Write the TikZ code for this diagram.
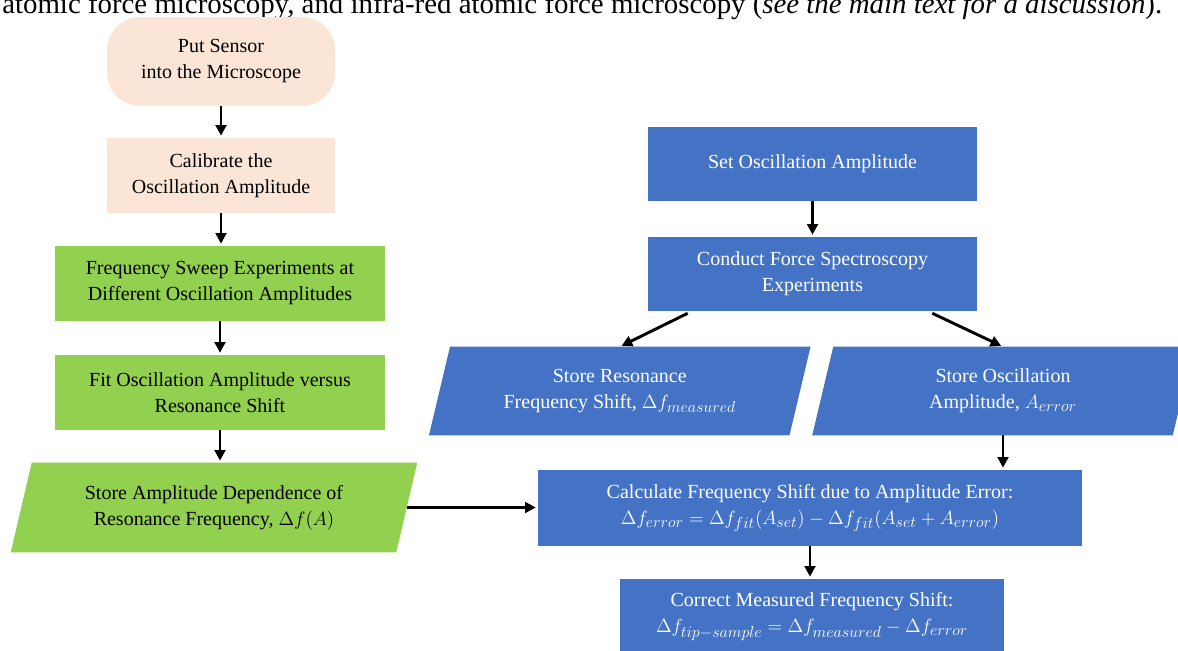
\documentclass[tikz,border=0pt]{standalone}
\usepackage{fontspec}
\setmainfont{Liberation Serif}
\usepackage{graphicx}
\DeclareMathSizes{15}{15}{11.5}{9}
\usetikzlibrary{arrows.meta,calc,backgrounds}
\definecolor{peach}{HTML}{FBE5D6}
\definecolor{lgreen}{HTML}{92D050}
\definecolor{oblue}{HTML}{4472C4}
\newcommand{\paraback}[3]{%
  \begin{scope}[on background layer]
    \fill[#2] ($(#1.south west)+(-#3/2,0)$) -- ($(#1.north west)+(#3/2,0)$)
      -- ($(#1.north east)+(#3/2,0)$) -- ($(#1.south east)+(-#3/2,0)$) -- cycle;
  \end{scope}}
\begin{document}
\begin{tikzpicture}[x=0.75pt,y=-0.75pt,
  box/.style={rectangle, inner sep=0pt, align=center, font=\fontsize{15}{19.5}\selectfont},
  peachbox/.style={box, fill=peach, text=black},
  greenbox/.style={box, fill=lgreen, text=black},
  bluebox/.style={box, fill=oblue, text=white},
  greenpara/.style={box, text=black},
  bluepara/.style={box, text=white},
  arr/.style={-{Triangle[length=8pt,width=8pt]}, line width=2.2pt, black, shorten >=1.5pt}
]
\useasboundingbox (0,0) rectangle (1178,650);

% cut-off caption line at the top
\node[anchor=base west, inner sep=0pt] (cap) at (2,13)
  {\resizebox{870pt}{!}{\fontsize{19}{23}\selectfont atomic force microscopy, and infra-red atomic force microscopy (\textit{see the main text for a discussion}).}};

% left column
\node[peachbox, minimum width=171pt, minimum height=66.75pt, rounded corners=25pt] (put) at (221,61.5)
  {Put Sensor\\into the Microscope};
\node[peachbox, minimum width=171pt, minimum height=56.25pt] (cal) at (221,175.5)
  {Calibrate the\\Oscillation Amplitude};
\node[greenbox, minimum width=247.5pt, minimum height=56.25pt] (sweep) at (220,283.5)
  {Frequency Sweep Experiments at\\Different Oscillation Amplitudes};
\node[greenbox, minimum width=247.5pt, minimum height=56.25pt] (fit) at (220,392.5)
  {Fit Oscillation Amplitude versus\\Resonance Shift};
\node[greenpara, minimum width=288.75pt, minimum height=66.75pt] (sA) at (214,507.5)
  {Store Amplitude Dependence of\\Resonance Frequency, $\Delta f(A)$};
\paraback{sA}{lgreen}{21}

% right column
\node[bluebox, minimum width=246.75pt, minimum height=55.5pt] (set) at (812.5,164)
  {Set Oscillation Amplitude};
\node[bluebox, minimum width=246.75pt, minimum height=55.5pt] (cond) at (812.5,274)
  {Conduct Force Spectroscopy\\Experiments};
\node[bluepara, minimum width=270pt, minimum height=66pt] (sR) at (619.75,391)
  {Store Resonance\\Frequency Shift, $\Delta f_{measured}$};
\paraback{sR}{oblue}{21}
\node[bluepara, minimum width=270pt, minimum height=66pt] (sO) at (1003,391)
  {Store Oscillation\\Amplitude, $A_{error}$};
\paraback{sO}{oblue}{21}
\node[bluebox, minimum width=408pt, minimum height=57pt] (calc) at (810,508)
  {Calculate Frequency Shift due to Amplitude Error:\\
   $\Delta f_{error} = \Delta f_{fit}(A_{set}) - \Delta f_{fit}(A_{set}+A_{error})$};
\node[bluebox, minimum width=288pt, minimum height=56.25pt] (corr) at (812,616.5)
  {Correct Measured Frequency Shift:\\
   $\Delta f_{tip-sample} = \Delta f_{measured} - \Delta f_{error}$};

% connectors
\draw[arr] (put) -- (cal);
\draw[arr] (cal.south) -- (cal.south |- sweep.north);
\draw[arr] (sweep.south) -- (sweep.south |- fit.north);
\draw[arr] (fit.south) -- (fit.south |- sA.north);
\draw[arr] (sA.east) -- (sA.east -| calc.west);
\draw[arr] (set) -- (cond);
\coordinate (cL) at ($(cond.south west)+(40,2)$);
\coordinate (cR) at ($(cond.south east)+(-45,2)$);
\draw[arr] (cL) -- (sR.north);
\draw[arr] (cR) -- (sO.north);
\draw[arr] (sO.south) -- (sO.south |- calc.north);
\draw[arr] (calc.south) -- (calc.south |- corr.north);
\end{tikzpicture}
\end{document}
